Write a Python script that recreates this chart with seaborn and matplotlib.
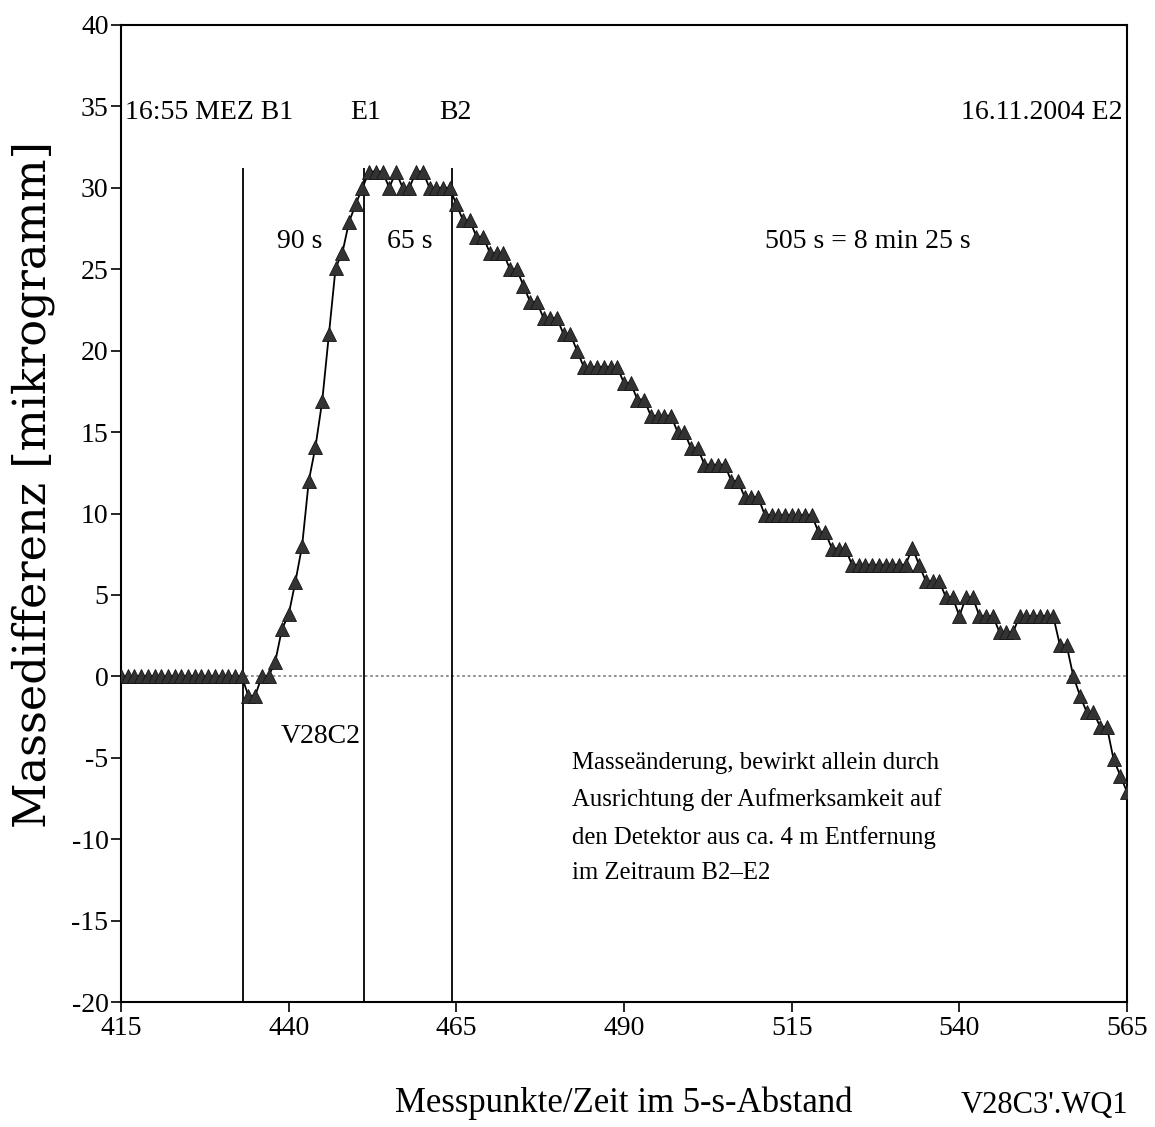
import matplotlib
matplotlib.use("Agg")
import matplotlib.pyplot as plt
import seaborn as sns
import pandas as pd

# ---- data ----
messpunkte = list(range(415, 566))
massedifferenz = [
    0, 0, 0, 0, 0, 0, 0, 0, 0, 0, 0, 0, 0, 0, 0, 0, 0, 0, 0,          # 415-433
    -1.2, -1.2, 0, 0,                                                  # 434-437
    0.9, 2.9, 3.8, 5.8, 8.0, 12.0, 14.1, 16.9, 21.0, 25.1, 26.0, 27.9, 29.0, 30.0,  # 438-451
    31, 31, 31, 30, 31, 30, 30, 31, 31, 30, 30, 30, 30,                # 452-464
    29, 28, 28, 27, 27, 26, 26, 26, 25, 25, 24, 23, 23,                # 465-477
    22, 22, 22, 21, 21, 20, 19, 19, 19, 19, 19, 19,                    # 478-489
    18, 18, 17, 17, 16, 16, 16, 16, 15, 15, 14, 14,                    # 490-501
    13, 13, 13, 13, 12, 12, 11, 11, 11,                                # 502-510
    9.9, 9.9, 9.9, 9.9, 9.9, 9.9, 9.9, 9.9,                            # 511-518
    8.85, 8.85, 7.85, 7.85, 7.85,                                      # 519-523
    6.85, 6.85, 6.85, 6.85, 6.85, 6.85, 6.85, 6.85, 6.85,              # 524-532
    7.9, 6.85, 5.85, 5.85, 5.85, 4.85, 4.85,                           # 533-539
    3.7, 4.85, 4.85, 3.7, 3.7, 3.7, 2.7, 2.7, 2.7,                     # 540-548
    3.7, 3.7, 3.7, 3.7, 3.7, 3.7,                                      # 549-554
    1.9, 1.9, 0, -1.2, -2.2, -2.2, -3.1, -3.1, -5.1, -6.1, -7.1,       # 555-565
]
marker_lines = [433.2, 451.2, 464.3]
x_ticks = [415, 440, 465, 490, 515, 540, 565]
y_ticks = [-20, -15, -10, -5, 0, 5, 10, 15, 20, 25, 30, 35, 40]

df = pd.DataFrame({"Messpunkt": messpunkte, "Masse": massedifferenz})

sns.set_theme(style="ticks")
plt.rcParams["font.family"] = ["Liberation Serif", "DejaVu Serif"]
plt.rcParams["axes.unicode_minus"] = False

W, H = 1155, 1127
fig = plt.figure(figsize=(W / 100, H / 100), dpi=100)
ax = fig.add_axes([121 / W, 1 - 1002 / H, (1127 - 121) / W, (1002 - 25) / H])

ax.axhline(0, color="#8a8a8a", linestyle=(0, (1.5, 1.5)), linewidth=1.3, zorder=1)
ax.vlines(marker_lines, -20, 31.2, color="black", linewidth=1.3, zorder=2)

sns.lineplot(data=df, x="Messpunkt", y="Masse", ax=ax, color="black",
             linewidth=1.3, marker="^", markersize=10,
             markerfacecolor="#333333", markeredgecolor="#151515",
             markeredgewidth=0.6, zorder=3)

ax.set_xlim(415, 565)
ax.set_ylim(-20, 40)
ax.set_xticks(x_ticks)
ax.set_yticks(y_ticks)
ax.set_xlabel("")
ax.set_ylabel("")
for s in ax.spines.values():
    s.set_visible(True)
    s.set_color("black")
    s.set_linewidth(1.5)
ax.tick_params(axis="both", direction="out", length=7, width=1.2,
               colors="black", labelsize=20, pad=2)
ax.tick_params(axis="x", pad=3)

tf = dict(fontsize=20, color="black")
ax.text(415.6, 34.6, "16:55 MEZ B1", ha="left", va="center", **tf)
ax.text(451.5, 34.6, "E1", ha="center", va="center", **tf)
ax.text(464.8, 34.6, "B2", ha="center", va="center", **tf)
ax.text(564.3, 34.6, "16.11.2004 E2", ha="right", va="center", **tf)
ax.text(441.6, 26.7, "90 s", ha="center", va="center", **tf)
ax.text(458.0, 26.7, "65 s", ha="center", va="center", **tf)
ax.text(526.4, 26.7, "505 s = 8 min 25 s", ha="center", va="center", **tf)
ax.text(444.8, -3.7, "V28C2", ha="center", va="center", **tf)
ax.text(482.2, -4.65,
        "Masseänderung, bewirkt allein durch\n"
        "Ausrichtung der Aufmerksamkeit auf\n"
        "den Detektor aus ca. 4 m Entfernung\n"
        "im Zeitraum B2\u2013E2",
        ha="left", va="top", fontsize=17.8, linespacing=1.8, color="black")

fig.text(624 / W, 1 - 1103 / H, "Messpunkte/Zeit im 5-s-Abstand",
         ha="center", va="center", fontsize=25, color="black")
fig.text(1128 / W, 1 - 1105 / H, "V28C3'.WQ1", ha="right", va="center",
         fontsize=22, color="black")
fig.text(33 / W, 1 - 485 / H, "Massedifferenz [mikrogramm]", rotation=90,
         ha="center", va="center", fontsize=32, color="black",
         family=["DejaVu Serif"])

fig.savefig("out.png", dpi=100, facecolor="white")
